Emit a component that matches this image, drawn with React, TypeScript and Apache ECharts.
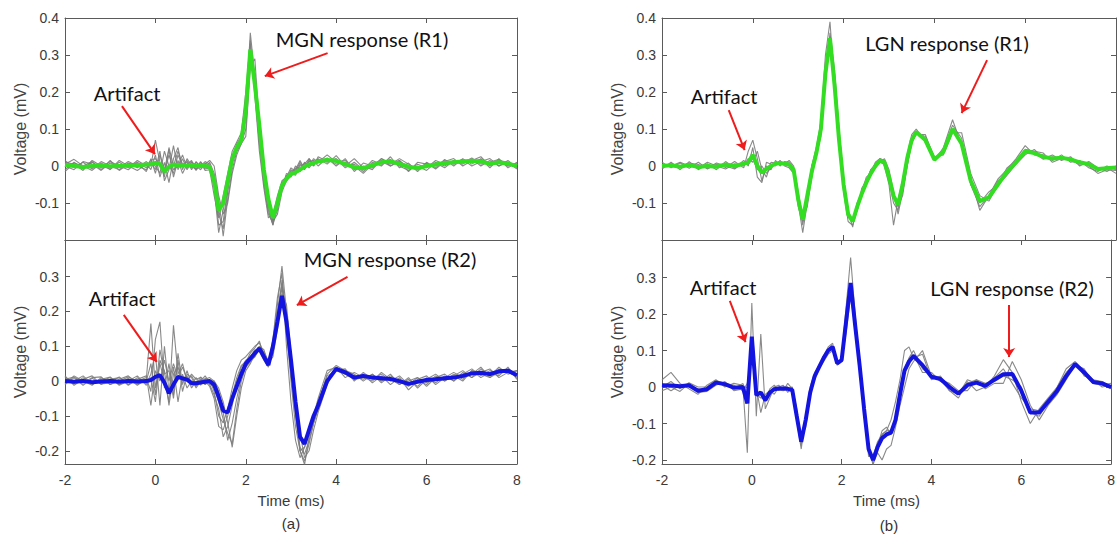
import React, { useEffect, useRef } from "react";
import * as echarts from "echarts";

// Shared time axis (ms)
const timeMs = [
  -2, -1.8, -1.6, -1.4, -1.2, -1, -0.8, -0.6, -0.4, -0.2,
  -0.1, 0, 0.1, 0.2, 0.3, 0.4, 0.5, 0.6, 0.7, 0.8,
  0.9, 1.0, 1.1, 1.2, 1.3, 1.4, 1.5, 1.6, 1.7, 1.8,
  1.9, 2.0, 2.1, 2.2, 2.3, 2.4, 2.5, 2.6, 2.7, 2.8,
  2.9, 3.0, 3.1, 3.2, 3.3, 3.4, 3.5, 3.6, 3.8, 4.0,
  4.2, 4.4, 4.6, 4.8, 5.0, 5.2, 5.4, 5.6, 5.8, 6.0,
  6.2, 6.4, 6.6, 6.8, 7.0, 7.2, 7.4, 7.6, 7.8, 8.0,
];

// (a) top: MGN response R1
const mgnR1Mean = [
  0.003, 0.0, -0.003, 0.0, 0.002, -0.001, 0.0, 0.001, 0.002, 0.004,
  0.005, 0.008, 0.005, -0.015, -0.002, 0.004, 0.001, 0.002, 0.001, 0.002,
  0.001, 0.0, 0.0, -0.002, -0.04, -0.12, -0.1, -0.04, 0.02, 0.05,
  0.07, 0.15, 0.315, 0.22, 0.11, -0.01, -0.09, -0.14, -0.1, -0.053,
  -0.035, -0.022, -0.017, -0.01, -0.002, 0.004, 0.008, 0.012, 0.016, 0.014,
  0.005, -0.004, -0.006, 0.002, 0.01, 0.012, 0.006, -0.002, -0.006, 0.0,
  0.004, 0.008, 0.01, 0.012, 0.014, 0.012, 0.006, 0.01, 0.006, 0.0,
];
const mgnR1Trials = [
  [
    0.015, -0.005, 0.01, -0.008, 0.012, 0.0, -0.01, 0.008, -0.005, 0.012,
    0.0, 0.07, 0.01, -0.03, 0.05, 0.0, 0.04, 0.005, 0.01, -0.005,
    0.01, 0.0, 0.012, 0.005, -0.05, -0.16, -0.15, -0.06, 0.01, 0.05,
    0.075, 0.16, 0.36, 0.24, 0.07, -0.04, -0.12, -0.16, -0.1, -0.06,
    -0.02, -0.025, 0.0, -0.01, 0.01, 0.0, 0.02, 0.01, 0.03, 0.01,
    0.015, -0.01, 0.0, -0.01, 0.02, 0.008, 0.015, -0.008, 0.0, -0.012,
    0.01, 0.0, 0.015, 0.005, 0.02, 0.0, 0.015, 0.0, 0.015, -0.005,
  ],
  [
    -0.01, 0.01, -0.008, 0.01, -0.005, 0.012, 0.0, -0.01, 0.01, -0.005,
    0.01, -0.01, 0.04, -0.04, -0.01, 0.055, -0.01, 0.02, -0.01, 0.01,
    -0.008, 0.012, -0.005, 0.01, -0.02, -0.09, -0.19, -0.09, -0.01, 0.04,
    0.06, 0.1, 0.28, 0.25, 0.09, -0.02, -0.1, -0.15, -0.12, -0.05,
    -0.04, -0.01, -0.02, 0.005, -0.01, 0.015, 0.0, 0.02, 0.005, 0.028,
    0.0, 0.005, -0.015, 0.01, 0.0, 0.025, -0.005, 0.008, -0.015, 0.01,
    -0.005, 0.018, 0.0, 0.02, 0.005, 0.02, -0.005, 0.02, -0.005, 0.01,
  ],
  [
    0.005, 0.018, 0.0, -0.012, 0.008, -0.01, 0.015, 0.0, -0.012, 0.005,
    -0.01, 0.03, -0.03, 0.01, -0.045, 0.02, 0.05, -0.01, 0.02, 0.0,
    -0.01, 0.01, -0.012, -0.01, -0.08, -0.14, -0.08, -0.02, 0.04, 0.065,
    0.09, 0.2, 0.34, 0.19, 0.04, -0.06, -0.14, -0.13, -0.08, -0.04,
    -0.03, -0.005, -0.015, 0.01, -0.005, 0.012, 0.015, 0.0, 0.022, 0.0,
    0.02, -0.015, 0.008, 0.0, 0.02, 0.0, 0.012, 0.0, -0.01, 0.008,
    -0.008, 0.012, 0.02, 0.0, 0.015, 0.025, 0.0, 0.012, 0.0, 0.008,
  ],
  [
    0.0, -0.01, 0.012, 0.005, -0.012, 0.008, -0.005, 0.012, 0.0, -0.01,
    0.005, 0.0, -0.02, 0.04, 0.0, -0.02, 0.03, 0.0, 0.015, -0.01,
    0.012, -0.005, 0.008, 0.0, -0.03, -0.13, -0.17, -0.07, 0.01, 0.04,
    0.07, 0.13, 0.3, 0.25, 0.08, -0.03, -0.11, -0.16, -0.11, -0.06,
    -0.025, -0.03, -0.005, -0.015, 0.008, -0.005, 0.012, 0.018, 0.01, 0.02,
    -0.005, 0.01, -0.01, 0.015, 0.005, 0.018, 0.0, -0.012, 0.005, -0.005,
    0.015, 0.005, 0.008, 0.018, 0.0, 0.012, 0.02, 0.0, 0.01, -0.008,
  ],
  [
    0.01, 0.005, -0.012, 0.015, 0.0, -0.008, 0.01, -0.005, 0.015, 0.0,
    0.015, 0.02, 0.0, -0.02, 0.03, -0.01, 0.0, 0.03, -0.005, 0.012,
    0.0, -0.01, 0.005, 0.015, 0.0, -0.08, -0.13, -0.1, -0.02, 0.03,
    0.06, 0.08, 0.27, 0.29, 0.11, 0.0, -0.09, -0.15, -0.13, -0.07,
    -0.04, -0.02, -0.025, 0.0, 0.005, 0.02, 0.005, 0.015, 0.02, 0.005,
    0.01, 0.0, -0.02, 0.005, 0.015, 0.005, 0.02, 0.005, -0.01, 0.0,
    0.008, -0.005, 0.015, 0.008, 0.022, 0.005, 0.01, 0.018, 0.0, 0.005,
  ],
  [
    -0.015, 0.008, 0.0, 0.012, -0.01, 0.015, -0.012, 0.005, 0.008, -0.015,
    0.02, -0.02, 0.03, -0.01, 0.045, -0.03, 0.015, -0.02, 0.005, 0.015,
    -0.012, 0.005, -0.008, -0.005, -0.06, -0.18, -0.12, -0.05, 0.02, 0.06,
    0.08, 0.18, 0.33, 0.2, 0.06, -0.05, -0.13, -0.155, -0.09, -0.045,
    -0.03, -0.015, -0.01, 0.015, -0.008, 0.02, 0.0, 0.025, 0.012, 0.018,
    0.0, 0.02, -0.005, -0.005, 0.012, 0.0, 0.015, -0.015, 0.01, 0.005,
    0.0, 0.015, 0.005, 0.015, 0.01, 0.018, 0.005, 0.015, 0.01, 0.0,
  ],
];

// (a) bottom: MGN response R2
const mgnR2Mean = [
  0.0, -0.002, 0.0, -0.003, -0.001, 0.0, -0.002, 0.0, -0.001, 0.0,
  0.003, 0.012, 0.017, -0.005, -0.035, -0.01, 0.012, 0.008, 0.004, -0.006,
  -0.006, -0.004, -0.002, 0.0, -0.01, -0.045, -0.085, -0.09, -0.05, -0.015,
  0.02, 0.05, 0.065, 0.08, 0.094, 0.07, 0.046, 0.1, 0.17, 0.245,
  0.17, 0.06, -0.06, -0.16, -0.18, -0.14, -0.1, -0.07, 0.0, 0.035,
  0.025, 0.01, 0.015, 0.01, 0.008, 0.006, 0.0, -0.008, -0.002, 0.003,
  0.005, 0.008, 0.01, 0.015, 0.022, 0.024, 0.02, 0.028, 0.03, 0.017,
];
const mgnR2Trials = [
  [
    0.012, -0.008, 0.01, -0.01, 0.005, 0.012, -0.01, 0.008, -0.012, 0.006,
    0.165, -0.02, 0.05, 0.0, -0.06, 0.16, 0.02, 0.05, 0.0, 0.02,
    0.005, 0.01, -0.01, 0.005, -0.03, -0.1, -0.12, -0.08, -0.02, 0.03,
    0.06, 0.07, 0.085, 0.1, 0.11, 0.08, 0.06, 0.11, 0.22, 0.33,
    0.2, 0.05, -0.08, -0.2, -0.24, -0.16, -0.12, -0.07, 0.02, 0.045,
    0.03, 0.02, 0.0, 0.02, 0.0, 0.02, -0.01, 0.005, -0.015, 0.01,
    -0.005, 0.015, 0.0, 0.025, 0.01, 0.035, 0.015, 0.04, 0.02, 0.03,
  ],
  [
    -0.01, 0.01, -0.012, 0.008, -0.008, -0.005, 0.012, -0.01, 0.01, -0.008,
    0.02, 0.08, -0.07, 0.1, -0.03, 0.04, -0.06, 0.02, -0.02, 0.0,
    -0.015, 0.005, -0.01, 0.0, 0.0, -0.02, -0.06, -0.12, -0.19, -0.1,
    -0.02, 0.03, 0.05, 0.08, 0.1, 0.09, 0.05, 0.07, 0.15, 0.25,
    0.22, 0.08, -0.05, -0.15, -0.22, -0.2, -0.14, -0.09, -0.01, 0.04,
    0.02, 0.005, 0.02, -0.005, 0.015, -0.01, 0.01, -0.025, 0.0, -0.01,
    0.015, 0.0, 0.02, 0.005, 0.03, 0.01, 0.025, 0.015, 0.04, 0.005,
  ],
  [
    0.005, 0.012, -0.005, 0.01, 0.012, -0.01, 0.0, 0.012, 0.0, 0.01,
    -0.03, 0.12, 0.17, -0.02, 0.05, -0.04, 0.08, -0.01, 0.03, -0.01,
    0.01, -0.012, 0.008, -0.01, -0.04, -0.08, -0.16, -0.13, -0.07, 0.0,
    0.04, 0.06, 0.07, 0.09, 0.085, 0.06, 0.04, 0.1, 0.2, 0.28,
    0.15, 0.0, -0.13, -0.2, -0.19, -0.14, -0.1, -0.06, 0.015, 0.03,
    0.035, 0.0, 0.025, 0.005, 0.02, 0.0, 0.015, -0.01, 0.01, -0.005,
    0.01, 0.02, 0.0, 0.02, 0.035, 0.015, 0.03, 0.02, 0.035, 0.02,
  ],
  [
    -0.005, 0.0, 0.015, -0.008, 0.0, 0.01, -0.012, 0.0, 0.015, -0.012,
    0.01, -0.06, 0.06, 0.03, -0.07, 0.02, 0.04, 0.0, 0.015, -0.02,
    0.0, -0.005, 0.005, 0.01, 0.0, -0.03, -0.09, -0.17, -0.12, -0.05,
    0.01, 0.04, 0.06, 0.07, 0.1, 0.075, 0.05, 0.08, 0.16, 0.27,
    0.18, 0.02, -0.1, -0.19, -0.21, -0.17, -0.12, -0.08, 0.0, 0.03,
    0.02, 0.015, 0.005, 0.02, -0.005, 0.015, 0.0, -0.015, 0.005, 0.015,
    -0.01, 0.01, 0.025, 0.01, 0.02, 0.04, 0.01, 0.025, 0.03, 0.01,
  ],
  [
    0.015, -0.012, 0.005, 0.015, -0.01, 0.005, 0.01, -0.012, 0.005, 0.015,
    -0.07, 0.03, 0.0, 0.06, 0.0, 0.05, 0.01, 0.04, 0.005, 0.015,
    -0.01, 0.012, 0.0, -0.015, -0.05, -0.13, -0.14, -0.1, -0.04, 0.01,
    0.045, 0.055, 0.08, 0.095, 0.115, 0.07, 0.045, 0.12, 0.24, 0.31,
    0.1, -0.06, -0.17, -0.22, -0.19, -0.15, -0.1, -0.05, 0.03, 0.04,
    0.01, 0.025, 0.01, 0.0, 0.025, 0.005, -0.01, 0.01, -0.02, 0.005,
    0.02, 0.0, 0.015, 0.03, 0.01, 0.025, 0.035, 0.01, 0.025, 0.03,
  ],
  [
    -0.008, 0.015, 0.0, -0.012, 0.01, -0.01, 0.005, 0.015, -0.008, 0.0,
    0.05, -0.04, 0.09, 0.02, 0.03, -0.05, 0.06, -0.03, 0.02, 0.01,
    -0.02, 0.0, 0.015, -0.005, -0.02, -0.06, -0.11, -0.15, -0.18, -0.08,
    0.0, 0.04, 0.055, 0.07, 0.09, 0.085, 0.055, 0.09, 0.18, 0.29,
    0.19, 0.04, -0.09, -0.2, -0.23, -0.18, -0.12, -0.08, 0.005, 0.035,
    0.02, 0.005, 0.01, 0.015, 0.0, 0.01, -0.005, 0.0, 0.01, -0.015,
    0.01, 0.005, 0.015, 0.0, 0.03, 0.02, 0.01, 0.035, 0.025, 0.015,
  ],
];

// (b) top: LGN response R1
const lgnR1Mean = [
  0.0, 0.002, -0.002, 0.003, -0.003, 0.0, -0.002, 0.004, 0.0, 0.006,
  0.01, 0.03, 0.0, -0.018, -0.008, 0.0, 0.006, 0.008, 0.006, 0.004,
  -0.01, -0.09, -0.145, -0.08, -0.015, 0.035, 0.1, 0.25, 0.345, 0.22,
  0.07, -0.05, -0.13, -0.15, -0.11, -0.075, -0.045, -0.02, 0.0, 0.015,
  0.01, -0.03, -0.08, -0.105, -0.05, 0.02, 0.07, 0.092, 0.07, 0.017,
  0.04, 0.1, 0.06, -0.04, -0.095, -0.085, -0.05, -0.015, 0.01, 0.04,
  0.035, 0.025, 0.02, 0.022, 0.018, 0.01, 0.005, -0.008, -0.006, -0.004,
];
const lgnR1Trials = [
  [
    0.01, -0.005, 0.008, -0.006, 0.01, -0.008, 0.005, -0.004, 0.012, -0.005,
    0.04, 0.07, 0.02, -0.04, 0.0, -0.01, 0.015, 0.0, 0.012, 0.01,
    -0.005, -0.1, -0.18, -0.1, 0.0, 0.05, 0.12, 0.3, 0.39, 0.22,
    0.06, -0.07, -0.15, -0.16, -0.12, -0.06, -0.04, -0.01, 0.005, 0.02,
    0.0, -0.05, -0.16, -0.09, -0.04, 0.03, 0.085, 0.1, 0.065, 0.015,
    0.05, 0.125, 0.055, -0.05, -0.11, -0.08, -0.035, -0.01, 0.02, 0.055,
    0.03, 0.03, 0.015, 0.03, 0.01, 0.015, -0.005, -0.015, 0.0, -0.01,
  ],
  [
    -0.008, 0.01, -0.01, 0.012, -0.01, 0.006, -0.01, 0.012, -0.006, 0.015,
    0.0, 0.05, -0.03, -0.045, 0.01, 0.005, 0.0, 0.015, 0.0, -0.005,
    -0.02, -0.08, -0.16, -0.08, -0.02, 0.03, 0.08, 0.23, 0.36, 0.26,
    0.1, -0.04, -0.12, -0.165, -0.1, -0.08, -0.05, -0.02, 0.0, 0.01,
    0.02, -0.01, -0.07, -0.13, -0.07, 0.0, 0.06, 0.09, 0.08, 0.025,
    0.03, 0.09, 0.09, -0.02, -0.08, -0.095, -0.05, -0.025, 0.005, 0.03,
    0.045, 0.02, 0.03, 0.015, 0.025, 0.0, 0.012, -0.005, -0.015, 0.0,
  ],
  [
    0.004, 0.0, 0.01, 0.0, -0.006, 0.01, 0.0, -0.008, 0.006, 0.0,
    0.02, 0.01, 0.04, -0.01, -0.03, 0.01, 0.008, 0.012, 0.005, 0.015,
    0.0, -0.07, -0.14, -0.11, -0.03, 0.045, 0.11, 0.27, 0.33, 0.2,
    0.07, -0.06, -0.14, -0.14, -0.12, -0.07, -0.03, -0.02, 0.01, 0.02,
    0.015, -0.04, -0.1, -0.12, -0.05, 0.015, 0.075, 0.095, 0.07, 0.015,
    0.045, 0.11, 0.075, -0.05, -0.1, -0.07, -0.05, -0.005, 0.015, 0.045,
    0.04, 0.035, 0.01, 0.02, 0.02, 0.012, 0.0, -0.02, -0.01, -0.012,
  ],
  [
    -0.004, 0.006, 0.0, 0.008, 0.004, -0.006, 0.008, 0.0, -0.008, 0.01,
    0.005, 0.02, -0.01, 0.0, -0.02, -0.005, 0.01, 0.005, 0.01, 0.0,
    -0.015, -0.11, -0.15, -0.07, 0.0, 0.04, 0.09, 0.24, 0.35, 0.25,
    0.09, -0.03, -0.13, -0.15, -0.1, -0.07, -0.045, -0.01, -0.005, 0.01,
    0.005, -0.02, -0.08, -0.11, -0.08, 0.0, 0.065, 0.085, 0.085, 0.02,
    0.035, 0.1, 0.065, -0.03, -0.12, -0.08, -0.04, -0.02, 0.01, 0.035,
    0.035, 0.018, 0.025, 0.02, 0.015, 0.005, 0.008, -0.01, -0.005, -0.02,
  ],
];

// (b) bottom: LGN response R2
const lgnR2Mean = [
  0.005, 0.004, 0.002, 0.005, -0.01, -0.006, 0.012, 0.008, -0.002, 0.0,
  -0.045, 0.138, -0.022, -0.015, -0.036, -0.015, -0.006, -0.004, -0.004, -0.005,
  -0.008, -0.08, -0.15, -0.09, -0.015, 0.03, 0.055, 0.08, 0.1, 0.11,
  0.065, 0.074, 0.18, 0.285, 0.17, 0.06, -0.06, -0.17, -0.2, -0.165,
  -0.14, -0.13, -0.125, -0.09, -0.02, 0.045, 0.07, 0.085, 0.06, 0.028,
  0.022, 0.0, -0.018, 0.005, 0.012, 0.003, 0.02, 0.035, 0.036, -0.01,
  -0.07, -0.07, -0.04, -0.01, 0.03, 0.063, 0.04, 0.014, 0.01, 0.0,
];
const lgnR2Trials = [
  [
    0.02, 0.04, 0.01, -0.005, -0.02, 0.005, 0.02, 0.0, 0.01, 0.005,
    -0.18, 0.23, -0.08, 0.145, -0.06, -0.03, 0.0, 0.005, -0.01, 0.01,
    -0.005, -0.09, -0.17, -0.08, 0.0, 0.04, 0.06, 0.085, 0.11, 0.12,
    0.06, 0.08, 0.22, 0.355, 0.2, 0.07, -0.06, -0.19, -0.19, -0.15,
    -0.13, -0.12, -0.09, -0.04, 0.02, 0.1, 0.11, 0.08, 0.09, 0.02,
    0.03, -0.01, -0.03, 0.015, -0.01, 0.0, 0.03, 0.075, 0.04, -0.04,
    -0.1, -0.06, -0.03, 0.0, 0.05, 0.07, 0.03, 0.02, 0.0, 0.005,
  ],
  [
    -0.01, 0.0, -0.012, 0.01, -0.015, -0.012, 0.005, 0.015, -0.01, -0.005,
    0.0, 0.1, 0.0, -0.07, -0.02, -0.01, -0.02, 0.0, 0.005, -0.015,
    0.0, -0.06, -0.14, -0.11, -0.02, 0.02, 0.05, 0.07, 0.09, 0.1,
    0.07, 0.07, 0.15, 0.25, 0.16, 0.05, -0.07, -0.16, -0.21, -0.18,
    -0.2, -0.17, -0.16, -0.11, -0.05, 0.0, 0.05, 0.07, 0.1, 0.03,
    0.02, 0.01, -0.01, -0.01, 0.02, -0.005, 0.01, 0.01, 0.07, 0.02,
    -0.05, -0.09, -0.05, -0.02, 0.02, 0.06, 0.05, 0.01, 0.015, -0.005,
  ],
  [
    0.005, -0.01, 0.005, 0.0, -0.005, -0.01, 0.01, 0.005, -0.005, 0.01,
    -0.02, 0.12, -0.01, -0.02, -0.04, -0.005, 0.005, -0.01, 0.0, 0.0,
    -0.015, -0.09, -0.16, -0.09, -0.01, 0.035, 0.06, 0.08, 0.1, 0.11,
    0.06, 0.075, 0.17, 0.28, 0.15, 0.05, -0.05, -0.18, -0.2, -0.17,
    -0.13, -0.12, -0.12, -0.1, -0.03, 0.04, 0.06, 0.09, 0.04, 0.04,
    0.015, 0.005, -0.02, 0.01, 0.02, 0.01, 0.015, 0.03, 0.02, 0.0,
    -0.07, -0.08, -0.04, -0.015, 0.03, 0.06, 0.045, 0.02, 0.015, 0.0,
  ],
  [
    0.0, 0.015, -0.005, 0.012, 0.0, 0.0, 0.018, 0.01, 0.005, -0.01,
    0.01, 0.09, -0.02, -0.03, -0.03, -0.02, -0.005, -0.008, -0.01, -0.005,
    0.0, -0.07, -0.15, -0.1, -0.01, 0.03, 0.055, 0.085, 0.1, 0.11,
    0.07, 0.07, 0.18, 0.26, 0.17, 0.07, -0.06, -0.16, -0.215, -0.16,
    -0.12, -0.11, -0.13, -0.08, 0.0, 0.05, 0.08, 0.1, 0.05, 0.03,
    0.02, -0.01, -0.02, 0.02, 0.01, 0.0, 0.025, 0.05, 0.01, -0.03,
    -0.06, -0.065, -0.045, 0.0, 0.04, 0.065, 0.035, 0.01, 0.005, 0.01,
  ],
];

// Axis tick values
const xTicks = [-2, 0, 2, 4, 6, 8];
const yTicksTop = [-0.2, -0.1, 0, 0.1, 0.2, 0.3, 0.4];
const yLabelsTop = [-0.1, 0, 0.1, 0.2, 0.3, 0.4];
const yTicksBottom = [-0.2, -0.1, 0, 0.1, 0.2, 0.3];

// Annotation arrows in data coordinates: [fromT, fromV, toT, toV]
const arrowsMgnR1 = [
  [-0.74, 0.162, -0.01, 0.032],
  [3.81, 0.305, 2.42, 0.243],
];
const arrowsMgnR2 = [
  [-0.7, 0.19, 0.03, 0.055],
  [4.25, 0.299, 3.13, 0.218],
];
const arrowsLgnR1 = [
  [-0.53, 0.151, -0.18, 0.043],
  [5.16, 0.286, 4.6, 0.143],
];
const arrowsLgnR2 = [
  [-0.49, 0.236, -0.14, 0.123],
  [5.73, 0.225, 5.73, 0.082],
];

const GREEN = "#33dd22";
const BLUE = "#1414e0";
const GRAY = "#7c7c7c";
const AXIS = "#5a5a5a";
const RED = "#ee1c1c";
const TICK_FONT = "'Liberation Sans', Arial, sans-serif";
const NOTE_FONT = "Lato, 'Open Sans', sans-serif";

const toPairs = (vals: number[]) => vals.map((v, i) => [timeMs[i], v]);

type Panel = {
  box: { left: number; top: number; width: number; height: number };
  yMin: number;
  yMax: number;
  yTicks: number[];
  yLabels: number[];
  showX: boolean;
  mean: number[];
  trials: number[][];
  color: string;
  arrows: number[][];
};

const panels: Panel[] = [
  {
    box: { left: 65, top: 18, width: 452, height: 222 },
    yMin: -0.2, yMax: 0.4, yTicks: yTicksTop, yLabels: yLabelsTop, showX: false,
    mean: mgnR1Mean, trials: mgnR1Trials, color: GREEN, arrows: arrowsMgnR1,
  },
  {
    box: { left: 65, top: 240, width: 452, height: 224 },
    yMin: -0.238, yMax: 0.405, yTicks: yTicksBottom, yLabels: yTicksBottom, showX: true,
    mean: mgnR2Mean, trials: mgnR2Trials, color: BLUE, arrows: arrowsMgnR2,
  },
  {
    box: { left: 662, top: 18, width: 454, height: 222 },
    yMin: -0.2, yMax: 0.4, yTicks: yTicksTop, yLabels: yLabelsTop, showX: false,
    mean: lgnR1Mean, trials: lgnR1Trials, color: GREEN, arrows: arrowsLgnR1,
  },
  {
    box: { left: 662, top: 240, width: 454, height: 224 },
    yMin: -0.211, yMax: 0.403, yTicks: yTicksBottom, yLabels: yTicksBottom, showX: true,
    mean: lgnR2Mean, trials: lgnR2Trials, color: BLUE, arrows: arrowsLgnR2,
  },
];

const notes = [
  { text: "Artifact", x: 127, y: 93 },
  { text: "MGN response (R1)", x: 362, y: 39 },
  { text: "Artifact", x: 122, y: 298 },
  { text: "MGN response (R2)", x: 390, y: 259 },
  { text: "Artifact", x: 724, y: 96 },
  { text: "LGN response (R1)", x: 947, y: 43 },
  { text: "Artifact", x: 723, y: 287 },
  { text: "LGN response (R2)", x: 1012, y: 288 },
  { text: "(a)", x: 291, y: 523, small: true },
  { text: "(b)", x: 889, y: 525, small: true },
];

function buildOption() {
  const grid: any[] = [];
  const xAxis: any[] = [];
  const yAxis: any[] = [];
  const series: any[] = [];

  panels.forEach((p, i) => {
    grid.push({ ...p.box, containLabel: false });
    const tickStyle = { inside: true, length: 5, lineStyle: { color: AXIS, width: 1 } };
    const lineStyle = { show: true, onZero: false, lineStyle: { color: AXIS, width: 1 } };
    xAxis.push({
      type: "value", gridIndex: i, position: "bottom", min: -2, max: 8, interval: 2,
      axisLine: lineStyle,
      axisTick: { ...tickStyle, customValues: xTicks },
      axisLabel: {
        show: p.showX, customValues: xTicks, margin: 9, fontSize: 14,
        color: "#3a3a3a", fontFamily: TICK_FONT,
      },
      splitLine: { show: false },
      name: p.showX ? "Time (ms)" : "",
      nameLocation: "middle", nameGap: 29,
      nameTextStyle: { fontSize: 15, color: "#3a3a3a", fontFamily: TICK_FONT },
    });
    xAxis.push({
      type: "value", gridIndex: i, position: "top", min: -2, max: 8, interval: 2,
      axisLine: lineStyle,
      axisTick: { ...tickStyle, customValues: xTicks },
      axisLabel: { show: false },
      splitLine: { show: false },
    });
    yAxis.push({
      type: "value", gridIndex: i, position: "left", min: p.yMin, max: p.yMax,
      axisLine: lineStyle,
      axisTick: { ...tickStyle, customValues: p.yTicks },
      axisLabel: {
        show: true, customValues: p.yLabels, margin: 6, fontSize: 14,
        color: "#3a3a3a", fontFamily: TICK_FONT,
        formatter: (v: number) => String(Math.round(v * 10) / 10),
      },
      splitLine: { show: false },
      name: "Voltage (mV)", nameLocation: "middle", nameGap: 37, nameRotate: 90,
      nameTextStyle: { fontSize: 16, color: "#444", fontFamily: TICK_FONT },
    });
    yAxis.push({
      type: "value", gridIndex: i, position: "right", min: p.yMin, max: p.yMax,
      axisLine: lineStyle,
      axisTick: { ...tickStyle, customValues: p.yTicks },
      axisLabel: { show: false },
      splitLine: { show: false },
    });

    p.trials.forEach((tr, k) => {
      series.push({
        type: "line", name: `trial-${i}-${k}`, xAxisIndex: 2 * i, yAxisIndex: 2 * i,
        data: toPairs(tr), showSymbol: false, symbol: "none", silent: true,
        lineStyle: { color: GRAY, width: 1.1, opacity: 0.9 }, z: 2,
      });
    });
    series.push({
      type: "line", name: `mean-${i}`, xAxisIndex: 2 * i, yAxisIndex: 2 * i,
      data: toPairs(p.mean), showSymbol: false, symbol: "none", silent: true,
      lineStyle: { color: p.color, width: 4 }, z: 3,
      markLine: {
        silent: true, symbol: ["none", "arrow"], symbolSize: 9,
        label: { show: false },
        lineStyle: { color: RED, width: 2, type: "solid" },
        data: p.arrows.map((a) => [{ coord: [a[0], a[1]] }, { coord: [a[2], a[3]] }]),
        z: 5,
      },
    });
  });

  const graphic = notes.map((n: any) => ({
    type: "text", x: n.x, y: n.y, silent: true, z: 10,
    style: {
      text: n.text,
      fill: n.small ? "#333" : "#111",
      font: n.small ? `15px ${TICK_FONT}` : `20px ${NOTE_FONT}`,
      textAlign: "center", textVerticalAlign: "middle",
      align: "center", verticalAlign: "middle",
    },
  }));

  return {
    animation: false,
    backgroundColor: "#ffffff",
    grid, xAxis, yAxis, series, graphic,
  };
}

export default function App() {
  const ref = useRef<HTMLDivElement>(null);
  useEffect(() => {
    if (!ref.current) return;
    const chart = echarts.init(ref.current, null, { renderer: "svg" });
    chart.setOption(buildOption() as any);
    return () => chart.dispose();
  }, []);
  return (
    <div
      ref={ref}
      style={{ position: "fixed", left: 0, top: 0, width: 1118, height: 534, background: "#fff" }}
    />
  );
}
